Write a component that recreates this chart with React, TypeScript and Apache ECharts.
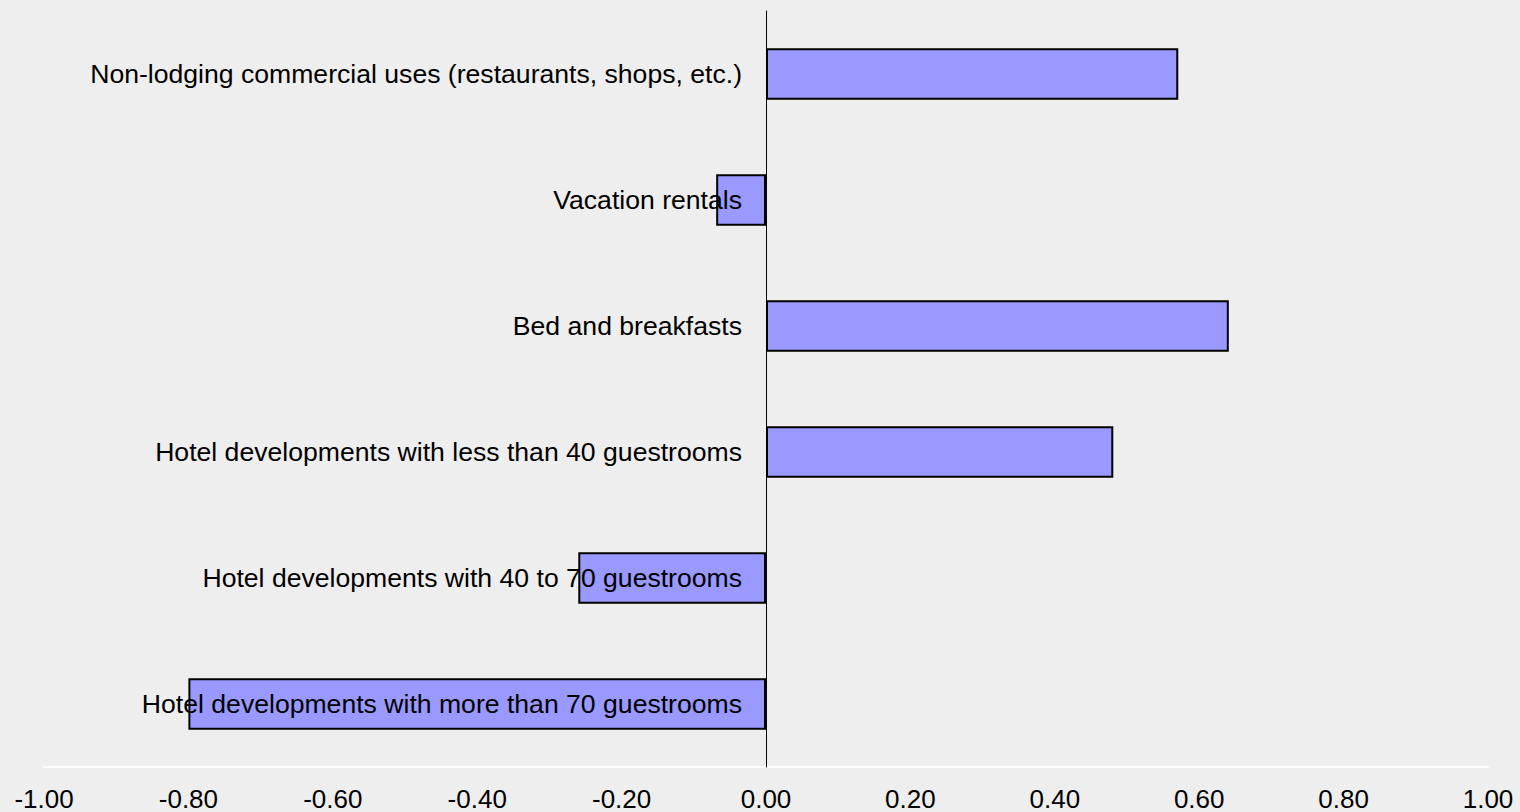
import React, { useEffect, useRef } from "react";
import * as echarts from "echarts";

const categories = [
  "Non-lodging commercial uses (restaurants, shops, etc.)",
  "Vacation rentals",
  "Bed and breakfasts",
  "Hotel developments with less than 40 guestrooms",
  "Hotel developments with 40 to 70 guestrooms",
  "Hotel developments with more than 70 guestrooms",
];
const values = [0.571, -0.069, 0.641, 0.481, -0.26, -0.8];
const xMin = -1;
const xMax = 1;
const xInterval = 0.2;

export default function App() {
  const ref = useRef<HTMLDivElement>(null);
  useEffect(() => {
    if (!ref.current) return;
    const chart = echarts.init(ref.current, undefined, { renderer: "svg" });
    chart.setOption({
      animation: false,
      backgroundColor: "#eeeeee",
      textStyle: { fontFamily: "Liberation Sans" },
      grid: { left: 44, right: 32, top: 11, bottom: 45, containLabel: false, outerBoundsMode: "none" },
      xAxis: {
        type: "value",
        min: xMin,
        max: xMax,
        interval: xInterval,
        axisLine: { show: true, lineStyle: { color: "#ffffff", width: 2 } },
        axisTick: { show: false },
        splitLine: { show: false },
        axisLabel: {
          color: "#000",
          fontSize: 26,
          lineHeight: 24,
          fontFamily: "Liberation Sans",
          margin: 20,
          formatter: (v: number) => v.toFixed(2),
        },
      },
      yAxis: {
        type: "category",
        data: categories,
        inverse: true,
        z: 10,
        offset: -722,
        axisLine: { show: true, onZero: false, lineStyle: { color: "#000", width: 1 } },
        axisTick: { show: false },
        splitLine: { show: false },
        axisLabel: {
          color: "#000",
          fontSize: 26.6,
          fontFamily: "Liberation Sans",
          margin: 24,
        },
      },
      series: [
        {
          type: "bar",
          data: values,
          barWidth: "41%",
          z: 2,
          itemStyle: { color: "#9999ff", borderColor: "#000", borderWidth: 2 },
        },
      ],
    });
    return () => chart.dispose();
  }, []);
  return <div ref={ref} style={{ width: 1520, height: 812, position: "absolute", left: 0, top: 0 }} />;
}
